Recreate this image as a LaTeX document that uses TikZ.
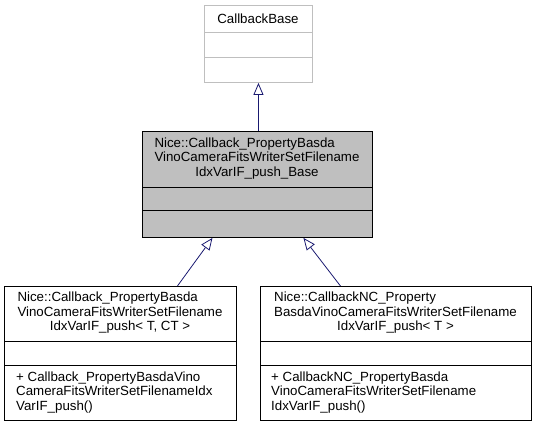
\documentclass[tikz,border=0pt]{standalone}
\usepackage{fontspec}
\setmainfont{Liberation Sans}
\usetikzlibrary{arrows.meta}

\definecolor{edgeblue}{HTML}{191970}
\definecolor{boxgray}{HTML}{BFBFBF}
\definecolor{framegray}{HTML}{BFBFBF}

\begin{document}
\begin{tikzpicture}[x=1pt,y=-1pt,
        font=\fontsize{13.3}{14.5}\selectfont,
        classbox/.style={draw=black,line width=0.9pt,rectangle,inner sep=0pt,anchor=north west},
        classname/.style={inner sep=0pt,align=center},
        members/.style={inner sep=0pt,anchor=west,align=left},
        inherit/.style={draw=edgeblue,line width=0.8pt,
            {Triangle[open,fill=white,length=12pt,width=10pt]}-}]
    \useasboundingbox (0,0) rectangle (536,427);

    % CallbackBase
    \node[classbox,draw=framegray,minimum width=108pt,minimum height=77pt] (cbbase) at (204,5) {};
    \node[classname] (cbbasename) at (258,18.5) {CallbackBase};
    \draw[framegray,line width=0.9pt] (cbbase.west |- 0,32) -- (cbbase.east |- 0,32);
    \draw[framegray,line width=0.9pt] (cbbase.west |- 0,57) -- (cbbase.east |- 0,57);

    % ..._push_Base
    \node[classbox,fill=boxgray,minimum width=230pt,minimum height=106pt] (pushbase) at (142,131) {};
    \node[classname] (pushbasename) at (257,159) {%
        \begin{tabular}{@{}l@{}}
        Nice::Callback\_PropertyBasda\\
        VinoCameraFitsWriterSetFilename\\
        \multicolumn{1}{@{}c@{}}{IdxVarIF\_push\_Base}
        \end{tabular}};
    \draw[line width=0.9pt] (pushbase.west |- 0,187) -- (pushbase.east |- 0,187);
    \draw[line width=0.9pt] (pushbase.west |- 0,210) -- (pushbase.east |- 0,210);

    % ..._push< T, CT >
    \node[classbox,minimum width=232pt,minimum height=134pt] (pushtct) at (4,286) {};
    \node[classname] (pushtctname) at (120,313.5) {%
        \begin{tabular}{@{}l@{}}
        Nice::Callback\_PropertyBasda\\
        VinoCameraFitsWriterSetFilename\\
        \multicolumn{1}{@{}c@{}}{IdxVarIF\_push< T, CT >}
        \end{tabular}};
    \draw[line width=0.9pt] (pushtct.west |- 0,341) -- (pushtct.east |- 0,341);
    \draw[line width=0.9pt] (pushtct.west |- 0,365) -- (pushtct.east |- 0,365);
    \node[members] (pushtctops) at (16,392.5) {+ Callback\_PropertyBasdaVino\\
        CameraFitsWriterSetFilenameIdx\\
        VarIF\_push()};

    % ..._push< T >
    \node[classbox,minimum width=271pt,minimum height=134pt] (pusht) at (260,286) {};
    \node[classname] (pushtname) at (395.5,313.5) {%
        \begin{tabular}{@{}l@{}}
        Nice::CallbackNC\_Property\\
        BasdaVinoCameraFitsWriterSetFilename\\
        \multicolumn{1}{@{}c@{}}{IdxVarIF\_push< T >}
        \end{tabular}};
    \draw[line width=0.9pt] (pusht.west |- 0,341) -- (pusht.east |- 0,341);
    \draw[line width=0.9pt] (pusht.west |- 0,365) -- (pusht.east |- 0,365);
    \node[members] (pushtops) at (271,392.5) {+ CallbackNC\_PropertyBasda\\
        VinoCameraFitsWriterSetFilename\\
        IdxVarIF\_push()};

    % inheritance
    \draw[inherit] (cbbase.south) -- (cbbase.south |- pushbase.north);
    \draw[inherit] ([xshift=-45pt]pushbase.south) -- ([xshift=57pt]pushtct.north);
    \draw[inherit] ([xshift=46pt]pushbase.south) -- ([xshift=-55.5pt]pusht.north);
\end{tikzpicture}
\end{document}
